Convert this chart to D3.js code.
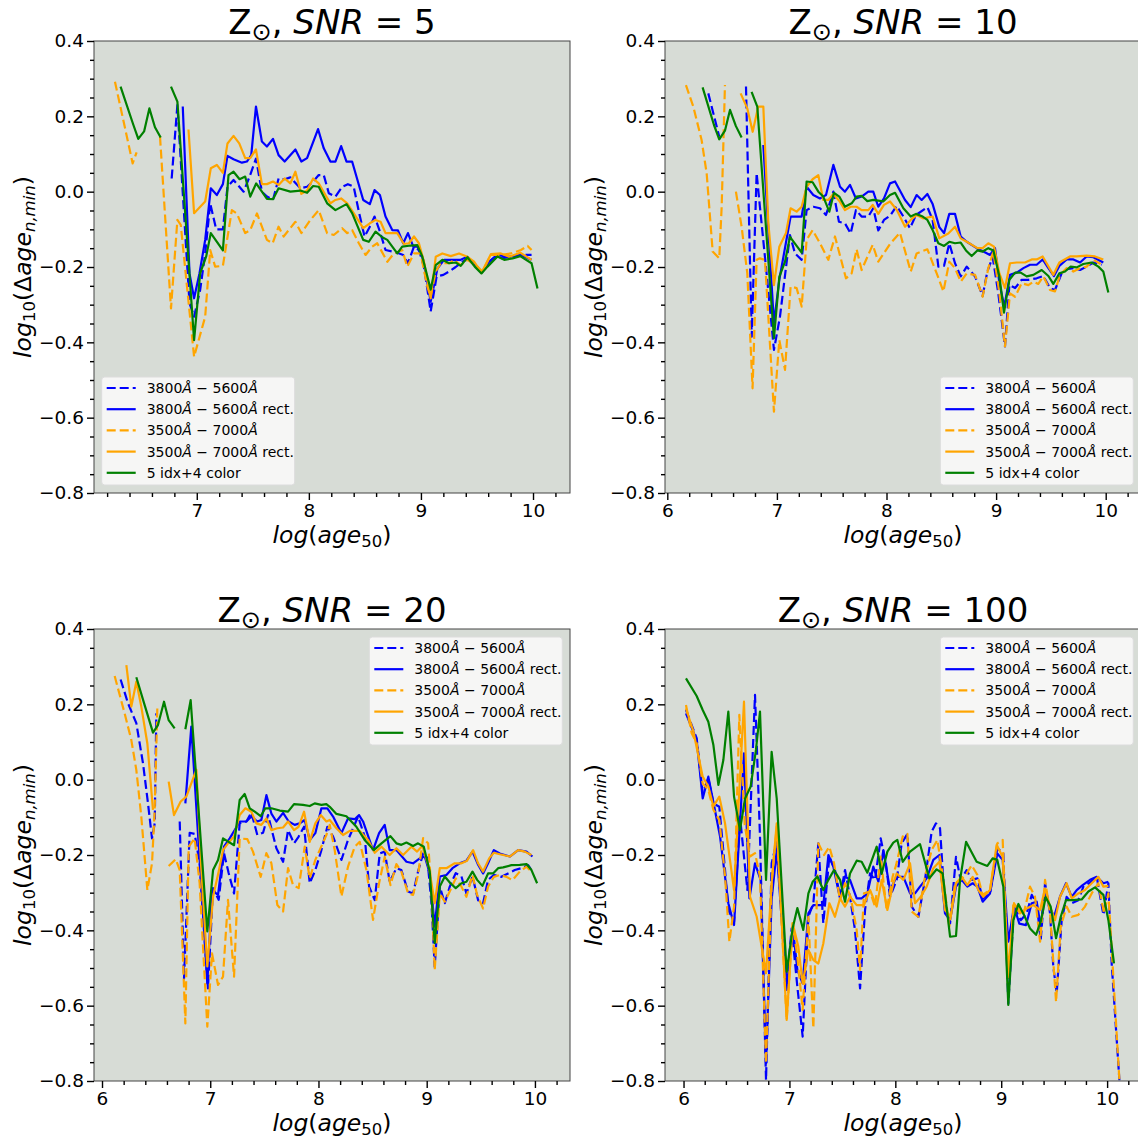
<!DOCTYPE html>
<html>
<head>
<meta charset="utf-8">
<script src="https://cdn.jsdelivr.net/npm/d3@7"></script>
<style>
  body { margin: 0; background: #fff; }
  text { font-family: "DejaVu Sans", sans-serif; }
</style>
</head>
<body>
<div id="chart"></div>
<script>
// ---------- data: [log(age50), log10(Δage)] pairs, null = gap ----------
const seriesNames = ['3800Å – 5600Å', '3800Å – 5600Å rect.', '3500Å – 7000Å', '3500Å – 7000Å rect.', '5 idx+4 color'];
const snrValues = ['5', '10', '20', '100'];
const yTicks = [0.4, 0.2, 0.0, -0.2, -0.4, -0.6, -0.8];
const xTicks = [6, 7, 8, 9, 10];

// SNR = 5
const p1BlueDash = [[6.776,0.035],[6.827,0.23],[6.935,-0.296],[6.976,-0.332],[7.03,-0.261],[7.075,-0.164],[7.12,-0.031],[7.173,-0.1],[7.233,-0.1],[7.274,0.013],[7.328,0.031],[7.418,0.0],[7.471,0.04],[7.528,0.088],[7.581,0.0],[7.626,-0.013],[7.68,-0.022],[7.73,0.035],[7.784,0.033],[7.835,0.038],[7.924,0.009],[7.984,0.013],[8.038,0.027],[8.088,0.044],[8.133,0.044],[8.178,-0.004],[8.237,-0.013],[8.297,0.013],[8.348,0.02],[8.4,0.013],[8.446,-0.053],[8.497,-0.119],[8.544,-0.093],[8.586,-0.066],[8.634,-0.106],[8.684,-0.155],[8.744,-0.159],[8.795,-0.163],[8.842,-0.168],[8.884,-0.19],[8.938,-0.146],[8.982,-0.155],[9.027,-0.199],[9.087,-0.318],[9.14,-0.225],[9.2,-0.221],[9.251,-0.212],[9.31,-0.2],[9.37,-0.186],[9.43,-0.177],[9.504,-0.204],[9.549,-0.212],[9.609,-0.186],[9.668,-0.171],[9.728,-0.177],[9.817,-0.171],[9.907,-0.168],[9.987,-0.168]];
const p1BlueRect = [[6.875,0.226],[6.935,-0.217],[6.976,-0.283],[7.024,-0.217],[7.075,-0.128],[7.125,0.009],[7.179,-0.009],[7.233,0.02],[7.274,0.095],[7.328,0.086],[7.403,0.077],[7.447,0.08],[7.486,0.097],[7.528,0.226],[7.581,0.133],[7.626,0.12],[7.68,0.14],[7.73,0.097],[7.784,0.08],[7.88,0.112],[7.933,0.08],[7.984,0.089],[8.082,0.166],[8.133,0.115],[8.192,0.08],[8.237,0.08],[8.288,0.121],[8.336,0.08],[8.386,0.08],[8.485,-0.022],[8.544,-0.033],[8.586,0.004],[8.634,-0.009],[8.684,-0.066],[8.744,-0.102],[8.795,-0.103],[8.842,-0.137],[8.884,-0.11],[8.932,-0.146],[8.968,-0.146],[9.021,-0.181],[9.087,-0.292],[9.147,-0.204],[9.206,-0.181],[9.296,-0.181],[9.355,-0.181],[9.415,-0.173],[9.48,-0.195],[9.54,-0.215],[9.609,-0.186],[9.683,-0.168],[9.773,-0.173],[9.892,-0.168],[9.987,-0.181]];
const p1OrangeDash = [[6.27,0.292],[6.428,0.075],[6.463,0.104],null,[6.672,0.146],[6.77,-0.31],[6.827,-0.075],[6.857,-0.088],[6.976,-0.438],[7.075,-0.332],[7.12,-0.155],[7.164,-0.199],[7.233,-0.197],[7.313,-0.049],[7.358,-0.058],[7.432,-0.11],[7.477,-0.102],[7.537,-0.058],[7.626,-0.128],[7.677,-0.137],[7.73,-0.093],[7.775,-0.119],[7.88,-0.08],[7.933,-0.11],[8.014,-0.075],[8.088,-0.049],[8.163,-0.11],[8.222,-0.115],[8.297,-0.097],[8.342,-0.11],[8.386,-0.102],[8.446,-0.137],[8.506,-0.168],[8.565,-0.146],[8.61,-0.137],[8.7,-0.186],[8.759,-0.164],[8.833,-0.155],[8.878,-0.199],[8.938,-0.164],[8.997,-0.164],[9.057,-0.252],[9.087,-0.279],[9.132,-0.212],[9.176,-0.19],[9.251,-0.19],[9.296,-0.181],[9.355,-0.195],[9.415,-0.181],[9.504,-0.199],[9.549,-0.212],[9.624,-0.168],[9.713,-0.168],[9.802,-0.164],[9.892,-0.155],[9.952,-0.144],[9.987,-0.155]];
const p1OrangeRect = [[6.926,0.165],[6.976,-0.057],[7.075,-0.026],[7.125,0.062],[7.179,0.071],[7.233,0.05],[7.274,0.128],[7.328,0.148],[7.379,0.128],[7.432,0.089],[7.477,0.089],[7.528,0.112],[7.581,0.02],[7.626,0.02],[7.68,0.027],[7.73,0.018],[7.784,0.035],[7.835,0.022],[7.88,0.053],[7.933,-0.006],[7.984,0.003],[8.038,0.035],[8.088,0.022],[8.148,-0.009],[8.192,-0.031],[8.237,-0.022],[8.288,-0.018],[8.342,-0.031],[8.4,-0.057],[8.485,-0.097],[8.544,-0.084],[8.595,-0.075],[8.64,-0.08],[8.684,-0.11],[8.789,-0.11],[8.848,-0.139],[8.893,-0.137],[8.938,-0.119],[8.982,-0.137],[9.027,-0.186],[9.087,-0.283],[9.132,-0.173],[9.191,-0.164],[9.266,-0.171],[9.34,-0.164],[9.415,-0.173],[9.474,-0.186],[9.54,-0.215],[9.624,-0.166],[9.713,-0.164],[9.788,-0.173],[9.886,-0.162],[9.987,-0.181]];
const p1Green = [[6.32,0.279],[6.43,0.181],[6.478,0.14],[6.53,0.16],[6.577,0.221],[6.627,0.171],[6.678,0.144],null,[6.77,0.279],[6.827,0.239],[6.976,-0.394],[7.03,-0.217],[7.084,-0.172],[7.125,-0.11],[7.233,-0.156],[7.283,0.044],[7.328,0.053],[7.382,0.033],[7.432,0.04],[7.477,-0.013],[7.53,0.022],[7.626,-0.019],[7.68,-0.02],[7.73,0.009],[7.835,0.0],[7.924,0.003],[7.984,-0.003],[8.038,0.015],[8.088,0.013],[8.163,-0.031],[8.237,-0.049],[8.336,-0.033],[8.386,-0.057],[8.485,-0.128],[8.535,-0.133],[8.595,-0.106],[8.655,-0.121],[8.7,-0.128],[8.789,-0.164],[8.833,-0.146],[8.908,-0.143],[8.968,-0.142],[9.012,-0.172],[9.087,-0.26],[9.132,-0.195],[9.191,-0.181],[9.251,-0.19],[9.31,-0.188],[9.355,-0.197],[9.415,-0.174],[9.48,-0.199],[9.54,-0.217],[9.594,-0.199],[9.683,-0.172],[9.743,-0.181],[9.817,-0.177],[9.886,-0.171],[9.987,-0.19],[10.04,-0.257]];

// SNR = 10
const p2BlueDash = [[6.374,0.261],[6.474,0.146],null,[6.718,0.279],[6.77,-0.385],[6.815,0.049],[6.845,-0.04],[6.906,-0.217],[6.973,-0.42],[7.028,-0.332],[7.119,-0.115],[7.165,-0.164],[7.226,-0.181],[7.271,-0.049],[7.332,-0.04],[7.393,-0.044],[7.448,-0.062],[7.515,0.0],[7.566,-0.08],[7.621,-0.084],[7.673,-0.111],[7.721,-0.049],[7.773,-0.066],[7.834,-0.066],[7.879,-0.044],[7.925,-0.103],[7.977,-0.075],[8.032,-0.064],[8.093,-0.038],[8.154,-0.066],[8.214,-0.097],[8.269,-0.062],[8.373,-0.041],[8.421,-0.075],[8.473,-0.199],[8.525,-0.197],[8.573,-0.137],[8.625,-0.19],[8.677,-0.225],[8.732,-0.199],[8.808,-0.225],[8.877,-0.277],[8.92,-0.212],[8.969,-0.174],[9.02,-0.27],[9.081,-0.411],[9.121,-0.248],[9.173,-0.256],[9.233,-0.234],[9.294,-0.234],[9.37,-0.23],[9.431,-0.224],[9.492,-0.256],[9.537,-0.261],[9.598,-0.217],[9.644,-0.206],[9.705,-0.203],[9.766,-0.208],[9.826,-0.199],[9.887,-0.188],[9.963,-0.194]];
const p2BlueRect = [[6.876,0.124],[6.973,-0.349],[7.022,-0.234],[7.125,-0.066],[7.18,-0.066],[7.226,-0.066],[7.271,0.013],[7.332,-0.009],[7.393,-0.018],[7.448,-0.009],[7.515,0.071],[7.576,0.013],[7.621,0.0],[7.667,0.018],[7.721,-0.018],[7.773,-0.013],[7.834,0.0],[7.879,0.0],[7.925,-0.04],[7.977,-0.018],[8.032,0.022],[8.078,0.027],[8.169,-0.022],[8.221,-0.041],[8.275,-0.009],[8.321,-0.022],[8.373,-0.006],[8.421,-0.033],[8.482,-0.094],[8.525,-0.11],[8.573,-0.059],[8.625,-0.059],[8.677,-0.119],[8.732,-0.133],[8.823,-0.15],[8.884,-0.159],[8.944,-0.168],[8.99,-0.15],[9.03,-0.243],[9.075,-0.305],[9.127,-0.221],[9.188,-0.215],[9.249,-0.203],[9.309,-0.194],[9.37,-0.194],[9.425,-0.18],[9.477,-0.203],[9.528,-0.224],[9.577,-0.197],[9.644,-0.18],[9.705,-0.18],[9.766,-0.188],[9.826,-0.172],[9.887,-0.174],[9.978,-0.188]];
const p2OrangeDash = [[6.17,0.283],[6.237,0.226],[6.313,0.137],[6.359,0.049],[6.414,-0.159],[6.474,-0.177],[6.496,-0.04],[6.526,0.283],null,[6.626,0.0],[6.678,-0.093],[6.73,-0.217],[6.778,-0.522],[6.815,-0.181],[6.845,-0.177],[6.891,-0.181],[6.973,-0.584],[7.022,-0.394],[7.074,-0.473],[7.125,-0.252],[7.18,-0.256],[7.226,-0.305],[7.271,-0.128],[7.326,-0.102],[7.393,-0.137],[7.469,-0.181],[7.53,-0.119],[7.63,-0.23],[7.682,-0.217],[7.727,-0.153],[7.773,-0.208],[7.874,-0.141],[7.925,-0.186],[8.032,-0.139],[8.123,-0.109],[8.221,-0.212],[8.275,-0.164],[8.373,-0.153],[8.458,-0.217],[8.519,-0.265],[8.573,-0.186],[8.625,-0.203],[8.677,-0.239],[8.732,-0.217],[8.808,-0.221],[8.877,-0.279],[8.929,-0.203],[8.975,-0.159],[9.03,-0.27],[9.081,-0.411],[9.127,-0.27],[9.173,-0.279],[9.233,-0.243],[9.294,-0.248],[9.34,-0.239],[9.385,-0.245],[9.431,-0.225],[9.492,-0.261],[9.537,-0.265],[9.583,-0.221],[9.644,-0.203],[9.705,-0.212],[9.766,-0.203],[9.826,-0.199],[9.887,-0.181],[9.954,-0.192]];
const p2OrangeRect = [[6.669,0.261],[6.73,0.221],[6.779,0.159],[6.83,0.226],[6.876,0.226],[6.922,-0.084],[6.973,-0.248],[7.022,-0.146],[7.083,-0.11],[7.125,-0.044],[7.18,-0.053],[7.226,-0.04],[7.271,0.013],[7.326,0.033],[7.378,0.044],[7.423,-0.022],[7.469,-0.022],[7.515,-0.006],[7.576,-0.027],[7.621,-0.049],[7.673,-0.04],[7.727,-0.04],[7.773,-0.049],[7.834,-0.049],[7.874,-0.035],[7.925,-0.059],[7.977,-0.035],[8.032,-0.026],[8.093,-0.048],[8.169,-0.093],[8.221,-0.075],[8.275,-0.062],[8.336,-0.071],[8.421,-0.066],[8.482,-0.124],[8.564,-0.111],[8.625,-0.093],[8.677,-0.124],[8.732,-0.133],[8.829,-0.15],[8.877,-0.15],[8.929,-0.137],[8.981,-0.146],[9.03,-0.217],[9.081,-0.256],[9.127,-0.19],[9.188,-0.188],[9.264,-0.188],[9.325,-0.18],[9.37,-0.18],[9.425,-0.172],[9.522,-0.221],[9.577,-0.188],[9.674,-0.172],[9.735,-0.172],[9.826,-0.17],[9.902,-0.172],[9.978,-0.18]];
const p2Green = [[6.322,0.277],[6.426,0.177],[6.474,0.139],[6.526,0.162],[6.572,0.217],[6.626,0.174],[6.678,0.144],null,[6.769,0.265],[6.821,0.226],[6.973,-0.389],[7.022,-0.226],[7.074,-0.186],[7.119,-0.12],[7.226,-0.162],[7.271,0.027],[7.326,0.025],[7.378,0.0],[7.423,-0.013],[7.478,-0.053],[7.521,-0.003],[7.569,-0.013],[7.621,-0.04],[7.682,-0.031],[7.727,-0.013],[7.773,-0.011],[7.825,-0.025],[7.879,-0.022],[7.97,-0.026],[8.032,-0.009],[8.078,-0.003],[8.154,-0.044],[8.221,-0.066],[8.269,-0.059],[8.33,-0.066],[8.373,-0.075],[8.421,-0.102],[8.473,-0.137],[8.525,-0.144],[8.573,-0.133],[8.625,-0.137],[8.677,-0.135],[8.725,-0.156],[8.777,-0.171],[8.829,-0.156],[8.877,-0.159],[8.929,-0.15],[8.975,-0.156],[9.03,-0.225],[9.072,-0.321],[9.121,-0.234],[9.173,-0.215],[9.224,-0.215],[9.279,-0.225],[9.34,-0.221],[9.416,-0.208],[9.477,-0.224],[9.522,-0.245],[9.577,-0.217],[9.629,-0.212],[9.68,-0.199],[9.735,-0.201],[9.796,-0.192],[9.872,-0.188],[9.933,-0.199],[9.978,-0.212],[10.024,-0.268]];

// SNR = 20
const p3BlueDash = [[6.172,0.266],[6.24,0.203],[6.317,0.15],[6.379,0.043],[6.425,-0.063],[6.462,-0.156],[6.487,-0.116],[6.502,0.176],null,[6.718,-0.111],[6.758,-0.528],[6.81,-0.141],[6.856,-0.144],[6.902,-0.222],[6.979,-0.554],[7.026,-0.288],[7.078,-0.319],[7.127,-0.195],[7.17,-0.248],[7.22,-0.302],[7.272,-0.116],[7.334,-0.111],[7.38,-0.087],[7.435,-0.147],[7.488,-0.141],[7.534,-0.094],[7.611,-0.182],[7.673,-0.218],[7.719,-0.134],[7.774,-0.169],[7.817,-0.151],[7.867,-0.125],[7.919,-0.275],[7.971,-0.24],[8.027,-0.187],[8.082,-0.125],[8.135,-0.151],[8.212,-0.213],[8.273,-0.16],[8.366,-0.098],[8.427,-0.151],[8.468,-0.284],[8.52,-0.32],[8.566,-0.196],[8.612,-0.191],[8.658,-0.271],[8.72,-0.235],[8.766,-0.24],[8.828,-0.297],[8.874,-0.302],[8.92,-0.244],[8.967,-0.196],[9.004,-0.204],[9.044,-0.328],[9.074,-0.497],[9.121,-0.284],[9.167,-0.328],[9.213,-0.284],[9.268,-0.248],[9.321,-0.257],[9.367,-0.302],[9.423,-0.257],[9.475,-0.32],[9.521,-0.328],[9.567,-0.266],[9.62,-0.253],[9.69,-0.258],[9.752,-0.249],[9.814,-0.24],[9.875,-0.235],[9.937,-0.227],[9.968,-0.24]];
const p3BlueRect = [[6.77,-0.063],[6.825,0.141],[6.973,-0.541],[7.016,-0.293],[7.072,-0.306],[7.127,-0.178],[7.18,-0.156],[7.226,-0.134],[7.272,-0.111],[7.334,-0.111],[7.38,-0.098],[7.435,-0.111],[7.472,-0.107],[7.519,-0.041],[7.565,-0.09],[7.611,-0.111],[7.673,-0.088],[7.725,-0.111],[7.78,-0.12],[7.827,-0.116],[7.873,-0.107],[7.919,-0.16],[7.971,-0.142],[8.027,-0.076],[8.082,-0.076],[8.135,-0.098],[8.212,-0.142],[8.273,-0.103],[8.335,-0.105],[8.375,-0.094],[8.412,-0.111],[8.504,-0.187],[8.56,-0.142],[8.612,-0.12],[8.658,-0.187],[8.72,-0.187],[8.813,-0.218],[8.874,-0.222],[8.936,-0.209],[8.982,-0.204],[9.028,-0.249],[9.074,-0.39],[9.121,-0.257],[9.182,-0.253],[9.238,-0.235],[9.305,-0.222],[9.367,-0.215],[9.423,-0.191],[9.475,-0.226],[9.521,-0.249],[9.567,-0.222],[9.62,-0.187],[9.675,-0.196],[9.768,-0.204],[9.845,-0.187],[9.922,-0.191],[9.977,-0.204]];
const p3OrangeDash = [[6.117,0.275],[6.209,0.176],[6.271,0.105],[6.317,0.026],[6.363,-0.098],[6.419,-0.293],[6.462,-0.222],[6.486,-0.085],[6.511,0.189],null,[6.616,-0.229],[6.681,-0.211],[6.718,-0.24],[6.77,-0.647],[6.801,-0.178],[6.856,-0.156],[6.902,-0.275],[6.973,-0.656],[7.016,-0.461],[7.072,-0.545],[7.118,-0.523],[7.164,-0.319],[7.22,-0.523],[7.272,-0.156],[7.343,-0.158],[7.395,-0.191],[7.466,-0.258],[7.519,-0.195],[7.565,-0.222],[7.62,-0.333],[7.673,-0.35],[7.719,-0.235],[7.765,-0.28],[7.817,-0.288],[7.873,-0.178],[7.919,-0.262],[7.971,-0.213],[8.073,-0.147],[8.104,-0.12],[8.15,-0.187],[8.212,-0.31],[8.273,-0.231],[8.335,-0.178],[8.381,-0.165],[8.443,-0.24],[8.504,-0.372],[8.56,-0.275],[8.612,-0.205],[8.665,-0.28],[8.72,-0.224],[8.766,-0.244],[8.828,-0.302],[8.874,-0.306],[8.92,-0.253],[8.967,-0.155],[9.013,-0.169],[9.044,-0.293],[9.074,-0.505],[9.121,-0.302],[9.167,-0.324],[9.219,-0.293],[9.268,-0.262],[9.321,-0.284],[9.367,-0.311],[9.423,-0.253],[9.466,-0.306],[9.521,-0.342],[9.567,-0.284],[9.62,-0.258],[9.675,-0.253],[9.737,-0.258],[9.792,-0.267],[9.86,-0.244],[9.922,-0.231],[9.968,-0.244]];
const p3OrangeRect = [[6.225,0.304],[6.271,0.194],[6.317,0.26],[6.363,0.194],[6.419,0.096],[6.471,-0.08],null,[6.616,-0.005],[6.665,-0.094],[6.727,-0.058],[6.779,-0.045],[6.825,-0.01],[6.872,0.026],[6.918,-0.24],[6.973,-0.496],[7.026,-0.311],[7.078,-0.244],[7.118,-0.187],[7.164,-0.169],[7.22,-0.151],[7.272,-0.094],[7.325,-0.076],[7.38,-0.085],[7.426,-0.116],[7.472,-0.12],[7.519,-0.103],[7.565,-0.134],[7.62,-0.129],[7.673,-0.127],[7.719,-0.111],[7.774,-0.134],[7.817,-0.125],[7.867,-0.085],[7.919,-0.165],[7.971,-0.116],[8.021,-0.094],[8.073,-0.111],[8.104,-0.107],[8.166,-0.129],[8.227,-0.147],[8.289,-0.136],[8.381,-0.136],[8.458,-0.16],[8.52,-0.194],[8.582,-0.178],[8.658,-0.2],[8.72,-0.182],[8.782,-0.2],[8.859,-0.178],[8.911,-0.191],[8.96,-0.176],[9.022,-0.235],[9.074,-0.328],[9.121,-0.235],[9.182,-0.235],[9.259,-0.222],[9.321,-0.222],[9.373,-0.215],[9.429,-0.187],[9.475,-0.222],[9.521,-0.244],[9.577,-0.209],[9.62,-0.194],[9.675,-0.198],[9.768,-0.204],[9.845,-0.187],[9.906,-0.191],[9.968,-0.2]];
const p3Green = [[6.317,0.272],[6.394,0.198],[6.471,0.125],[6.517,0.145],[6.573,0.207],[6.616,0.158],[6.671,0.136],null,[6.77,0.134],[6.819,0.211],[6.973,-0.403],[7.026,-0.24],[7.072,-0.213],[7.118,-0.156],[7.22,-0.174],[7.272,-0.054],[7.318,-0.038],[7.365,-0.076],[7.411,-0.085],[7.466,-0.097],[7.509,-0.076],[7.565,-0.076],[7.642,-0.082],[7.719,-0.085],[7.774,-0.065],[7.857,-0.067],[7.919,-0.07],[7.965,-0.063],[8.027,-0.067],[8.073,-0.065],[8.104,-0.072],[8.166,-0.091],[8.258,-0.097],[8.35,-0.125],[8.427,-0.16],[8.511,-0.187],[8.582,-0.169],[8.665,-0.15],[8.72,-0.169],[8.766,-0.173],[8.813,-0.167],[8.874,-0.176],[8.92,-0.169],[8.973,-0.178],[9.028,-0.244],[9.074,-0.434],[9.121,-0.284],[9.167,-0.257],[9.219,-0.275],[9.268,-0.288],[9.321,-0.275],[9.367,-0.271],[9.423,-0.244],[9.466,-0.266],[9.515,-0.282],[9.567,-0.249],[9.613,-0.249],[9.66,-0.235],[9.706,-0.233],[9.783,-0.227],[9.86,-0.226],[9.922,-0.224],[9.968,-0.24],[10.02,-0.275]];

// SNR = 100
const p4BlueDash = [[6.023,0.185],[6.077,0.145],[6.124,0.11],[6.181,-0.036],[6.234,0.004],[6.282,-0.063],[6.338,-0.072],[6.392,-0.24],[6.423,-0.346],[6.477,-0.377],[6.533,-0.098],[6.603,-0.293],[6.675,0.225],[6.722,-0.151],[6.779,-0.797],[6.832,-0.222],[6.88,-0.165],[6.974,-0.541],[7.021,-0.395],[7.075,-0.55],[7.125,-0.682],[7.179,-0.364],[7.226,-0.328],[7.273,-0.169],[7.32,-0.381],[7.377,-0.204],[7.43,-0.24],[7.478,-0.311],[7.525,-0.24],[7.572,-0.311],[7.619,-0.399],[7.667,-0.554],[7.714,-0.346],[7.761,-0.249],[7.808,-0.266],[7.862,-0.156],[7.912,-0.226],[7.95,-0.311],[8.013,-0.266],[8.06,-0.169],[8.114,-0.144],[8.155,-0.337],[8.218,-0.364],[8.28,-0.266],[8.343,-0.138],[8.384,-0.116],[8.422,-0.129],[8.469,-0.337],[8.517,-0.382],[8.573,-0.205],[8.617,-0.266],[8.674,-0.24],[8.721,-0.266],[8.775,-0.262],[8.825,-0.315],[8.894,-0.302],[8.963,-0.182],[9.02,-0.196],[9.067,-0.594],[9.121,-0.337],[9.184,-0.373],[9.241,-0.355],[9.288,-0.306],[9.335,-0.328],[9.373,-0.426],[9.414,-0.275],[9.461,-0.355],[9.492,-0.497],[9.524,-0.567],[9.571,-0.373],[9.618,-0.311],[9.666,-0.328],[9.728,-0.32],[9.776,-0.284],[9.839,-0.273],[9.902,-0.258],[9.965,-0.359],[10.012,-0.275],[10.043,-0.488],[10.116,-0.798]];
const p4BlueRect = [[6.023,0.176],[6.124,0.105],[6.181,-0.05],[6.234,0.008],[6.282,-0.06],[6.345,-0.151],[6.423,-0.328],[6.477,-0.386],[6.533,-0.116],[6.571,0.07],[6.622,-0.315],[6.675,-0.222],[6.728,-0.266],[6.779,-0.753],[6.832,-0.319],[6.88,-0.187],[6.974,-0.558],[7.031,-0.39],[7.075,-0.505],[7.125,-0.541],[7.179,-0.355],[7.226,-0.333],[7.32,-0.333],[7.368,-0.2],[7.415,-0.231],[7.478,-0.315],[7.525,-0.257],[7.572,-0.266],[7.635,-0.315],[7.682,-0.315],[7.736,-0.302],[7.792,-0.231],[7.84,-0.271],[7.887,-0.187],[7.95,-0.293],[8.013,-0.258],[8.076,-0.258],[8.139,-0.302],[8.186,-0.302],[8.233,-0.284],[8.296,-0.262],[8.359,-0.213],[8.416,-0.2],[8.469,-0.355],[8.517,-0.373],[8.573,-0.284],[8.627,-0.266],[8.68,-0.284],[8.731,-0.275],[8.775,-0.284],[8.825,-0.324],[8.894,-0.302],[8.963,-0.196],[9.014,-0.213],[9.067,-0.43],[9.121,-0.337],[9.171,-0.382],[9.234,-0.386],[9.288,-0.328],[9.335,-0.324],[9.373,-0.39],[9.414,-0.293],[9.455,-0.337],[9.499,-0.364],[9.555,-0.311],[9.612,-0.275],[9.666,-0.311],[9.713,-0.293],[9.769,-0.28],[9.839,-0.266],[9.902,-0.258],[9.965,-0.275],[10.012,-0.271]];
const p4OrangeDash = [[6.023,0.198],[6.077,0.123],[6.124,0.097],[6.181,-0.01],[6.234,-0.027],[6.282,-0.08],[6.338,-0.107],[6.392,-0.257],[6.433,-0.43],[6.477,-0.337],[6.527,0.172],[6.578,-0.12],[6.628,-0.204],[6.675,-0.195],[6.722,-0.257],[6.779,-0.753],[6.832,-0.275],[6.88,-0.125],[6.974,-0.638],[7.031,-0.381],[7.075,-0.47],[7.125,-0.611],[7.179,-0.364],[7.226,-0.66],[7.273,-0.169],[7.327,-0.2],[7.377,-0.178],[7.421,-0.222],[7.478,-0.32],[7.525,-0.275],[7.578,-0.311],[7.635,-0.399],[7.667,-0.505],[7.704,-0.302],[7.761,-0.297],[7.808,-0.337],[7.862,-0.204],[7.918,-0.346],[7.975,-0.257],[8.007,-0.227],[8.07,-0.151],[8.114,-0.144],[8.155,-0.35],[8.218,-0.364],[8.28,-0.258],[8.343,-0.187],[8.397,-0.16],[8.454,-0.266],[8.51,-0.39],[8.564,-0.275],[8.617,-0.266],[8.674,-0.249],[8.721,-0.227],[8.775,-0.253],[8.825,-0.306],[8.894,-0.293],[8.963,-0.169],[9.014,-0.16],[9.067,-0.567],[9.115,-0.328],[9.162,-0.342],[9.209,-0.359],[9.272,-0.284],[9.319,-0.311],[9.367,-0.43],[9.414,-0.266],[9.461,-0.355],[9.518,-0.59],[9.562,-0.39],[9.618,-0.337],[9.666,-0.364],[9.728,-0.359],[9.791,-0.337],[9.854,-0.302],[9.917,-0.275],[9.971,-0.355],[10.012,-0.302],[10.053,-0.497],[10.116,-0.798]];
const p4OrangeRect = [[6.023,0.189],[6.093,0.128],[6.181,0.008],[6.234,-0.018],[6.282,-0.071],[6.338,-0.045],[6.392,-0.116],[6.477,-0.293],[6.527,-0.027],[6.571,0.207],[6.628,-0.311],[6.691,-0.364],[6.779,-0.514],[6.832,-0.275],[6.88,-0.116],[6.974,-0.638],[7.031,-0.381],[7.084,-0.443],[7.125,-0.541],[7.179,-0.452],[7.226,-0.479],[7.273,-0.488],[7.32,-0.435],[7.377,-0.328],[7.43,-0.364],[7.478,-0.315],[7.525,-0.337],[7.572,-0.311],[7.635,-0.333],[7.704,-0.333],[7.761,-0.293],[7.824,-0.337],[7.871,-0.266],[7.925,-0.346],[7.981,-0.275],[8.013,-0.249],[8.076,-0.266],[8.139,-0.222],[8.186,-0.328],[8.24,-0.311],[8.296,-0.284],[8.359,-0.235],[8.416,-0.218],[8.469,-0.346],[8.523,-0.364],[8.573,-0.275],[8.627,-0.258],[8.68,-0.28],[8.731,-0.258],[8.784,-0.293],[8.831,-0.311],[8.894,-0.293],[8.957,-0.173],[9.014,-0.205],[9.067,-0.514],[9.121,-0.328],[9.178,-0.355],[9.241,-0.342],[9.304,-0.333],[9.367,-0.346],[9.414,-0.289],[9.461,-0.337],[9.508,-0.373],[9.555,-0.311],[9.618,-0.275],[9.666,-0.315],[9.728,-0.302],[9.791,-0.293],[9.854,-0.275],[9.917,-0.258],[9.965,-0.284],[10.012,-0.282]];
const p4Green = [[6.023,0.269],[6.124,0.222],[6.181,0.185],[6.234,0.154],[6.282,0.092],[6.329,-0.014],[6.376,0.052],[6.423,0.181],[6.477,-0.045],[6.533,-0.134],[6.581,-0.05],[6.634,-0.018],[6.684,0.079],[6.722,0.181],[6.779,-0.266],[6.832,0.074],[6.88,-0.05],[6.974,-0.51],[7.031,-0.394],[7.075,-0.341],[7.131,-0.399],[7.179,-0.302],[7.22,-0.271],[7.264,-0.257],[7.32,-0.293],[7.368,-0.266],[7.421,-0.24],[7.478,-0.266],[7.525,-0.324],[7.572,-0.249],[7.635,-0.215],[7.682,-0.218],[7.736,-0.247],[7.824,-0.178],[7.871,-0.25],[7.925,-0.191],[7.981,-0.167],[8.019,-0.16],[8.07,-0.218],[8.139,-0.191],[8.233,-0.171],[8.321,-0.262],[8.39,-0.238],[8.447,-0.249],[8.517,-0.417],[8.573,-0.415],[8.611,-0.267],[8.668,-0.165],[8.768,-0.218],[8.869,-0.229],[8.919,-0.209],[8.963,-0.213],[9.02,-0.284],[9.067,-0.598],[9.115,-0.373],[9.162,-0.33],[9.215,-0.359],[9.272,-0.395],[9.329,-0.412],[9.373,-0.377],[9.42,-0.312],[9.467,-0.337],[9.518,-0.421],[9.562,-0.364],[9.612,-0.32],[9.675,-0.32],[9.76,-0.318],[9.823,-0.297],[9.886,-0.286],[9.965,-0.306],[10.012,-0.373],[10.065,-0.488]];

// ---------- layout ----------
const W = 1138, H = 1143;
const colX = [94, 665];
const rowY = [41, 629];
const plotW = 476, plotH = 452;

const seriesStyle = [
  { color: 'blue',   dash: '9,4' },
  { color: 'blue',   dash: null },
  { color: 'orange', dash: '9,4' },
  { color: 'orange', dash: null },
  { color: 'green',  dash: null }
];

const panels = [
  { snr: snrValues[0], col: 0, row: 0, xDomain: [6.083, 10.33], legend: 'lowerleft',
    series: [p1BlueDash, p1BlueRect, p1OrangeDash, p1OrangeRect, p1Green] },
  { snr: snrValues[1], col: 1, row: 0, xDomain: [5.979, 10.322], legend: 'lowerright',
    series: [p2BlueDash, p2BlueRect, p2OrangeDash, p2OrangeRect, p2Green] },
  { snr: snrValues[2], col: 0, row: 1, xDomain: [5.926, 10.324], legend: 'upperright',
    series: [p3BlueDash, p3BlueRect, p3OrangeDash, p3OrangeRect, p3Green] },
  { snr: snrValues[3], col: 1, row: 1, xDomain: [5.825, 10.32], legend: 'upperright',
    series: [p4BlueDash, p4BlueRect, p4OrangeDash, p4OrangeRect, p4Green] }
];

const svg = d3.select('#chart').append('svg')
  .attr('width', W)
  .attr('height', H)
  .style('display', 'block');

svg.append('rect').attr('width', W).attr('height', H).attr('fill', '#fff');

panels.forEach((p, i) => {
  const x0 = colX[p.col], y0 = rowY[p.row];
  const g = svg.append('g').attr('transform', `translate(${x0},${y0})`);

  const x = d3.scaleLinear().domain(p.xDomain).range([0, plotW]);
  const y = d3.scaleLinear().domain([-0.8, 0.4]).range([plotH, 0]);

  // fond gris
  g.append('rect')
    .attr('width', plotW).attr('height', plotH)
    .attr('fill', '#d7dcd6');

  svg.append('clipPath').attr('id', 'clip' + i)
    .append('rect').attr('width', plotW).attr('height', plotH);

  // lignes
  const line = d3.line()
    .defined(d => d !== null)
    .x(d => x(d[0]))
    .y(d => y(d[1]));

  const lines = g.append('g').attr('clip-path', `url(#clip${i})`);
  p.series.forEach((s, k) => {
    lines.append('path')
      .datum(s)
      .attr('d', line)
      .attr('fill', 'none')
      .attr('stroke', seriesStyle[k].color)
      .attr('stroke-width', 2.2)
      .attr('stroke-linejoin', 'round')
      .attr('stroke-dasharray', seriesStyle[k].dash);
  });

  // cadre
  g.append('rect')
    .attr('width', plotW).attr('height', plotH)
    .attr('fill', 'none')
    .attr('stroke', '#444')
    .attr('stroke-width', 1);

  // axes
  const xMajor = xTicks.filter(t => t >= p.xDomain[0] && t <= p.xDomain[1]);
  const xMinor = d3.range(Math.ceil(p.xDomain[0] * 5), Math.floor(p.xDomain[1] * 5) + 1)
    .map(v => v / 5)
    .filter(v => Math.abs(v - Math.round(v)) > 1e-6);
  const yMinor = d3.range(-16, 9).map(v => v / 20)
    .filter(v => !yTicks.some(t => Math.abs(t - v) < 1e-6));

  const styleAxis = sel => {
    sel.select('.domain').remove();
    sel.selectAll('line').attr('stroke', '#000').attr('stroke-width', 1.4);
    sel.selectAll('text').attr('font-size', 18.5).attr('fill', '#000')
      .attr('font-family', '"DejaVu Sans", sans-serif');
  };

  g.append('g').attr('transform', `translate(0,${plotH})`)
    .call(d3.axisBottom(x).tickValues(xMinor).tickSize(4).tickFormat(''))
    .call(styleAxis);
  g.append('g').attr('transform', `translate(0,${plotH})`)
    .call(d3.axisBottom(x).tickValues(xMajor).tickSize(7).tickPadding(4).tickFormat(d3.format('d')))
    .call(styleAxis);
  g.append('g')
    .call(d3.axisLeft(y).tickValues(yMinor).tickSize(4).tickFormat(''))
    .call(styleAxis);
  g.append('g')
    .call(d3.axisLeft(y).tickValues(yTicks).tickSize(7).tickPadding(3).tickFormat(d3.format('.1f')))
    .call(styleAxis);

  // titre
  const title = g.append('text')
    .attr('x', plotW / 2).attr('y', -7)
    .attr('text-anchor', 'middle')
    .attr('font-size', 34);
  title.append('tspan').text('Z');
  title.append('tspan').attr('font-size', 24).attr('dy', 6).text('⊙');
  title.append('tspan').attr('dy', -6).text(', ');
  title.append('tspan').attr('font-style', 'italic').text('SNR');
  title.append('tspan').text(' = ' + p.snr);

  // label x
  const xl = g.append('text')
    .attr('x', plotW / 2).attr('y', plotH + 50)
    .attr('text-anchor', 'middle')
    .attr('font-size', 23.5);
  xl.append('tspan').attr('font-style', 'italic').text('log');
  xl.append('tspan').text('(');
  xl.append('tspan').attr('font-style', 'italic').text('age');
  xl.append('tspan').attr('font-size', 16.5).attr('dy', 4).text('50');
  xl.append('tspan').attr('dy', -4).text(')');

  // label y
  const yl = g.append('text')
    .attr('transform', `translate(-63,${plotH / 2}) rotate(-90)`)
    .attr('text-anchor', 'middle')
    .attr('font-size', 23.5);
  yl.append('tspan').attr('font-style', 'italic').text('log');
  yl.append('tspan').attr('font-size', 16.5).attr('dy', 4).text('10');
  yl.append('tspan').attr('dy', -4).text('(Δ');
  yl.append('tspan').attr('font-style', 'italic').text('age');
  yl.append('tspan').attr('font-size', 16.5).attr('font-style', 'italic').attr('dy', 4).text('n,min');
  yl.append('tspan').attr('dy', -4).text(')');

  // légende
  const lw = 193, lh = 108;
  let lx, ly;
  if (p.legend === 'lowerleft') { lx = 7.7; ly = plotH - 8 - lh; }
  else if (p.legend === 'lowerright') { lx = plotW - 7.7 - lw; ly = plotH - 8 - lh; }
  else { lx = plotW - 7.7 - lw; ly = 8; }

  const leg = g.append('g').attr('transform', `translate(${lx},${ly})`);
  leg.append('rect')
    .attr('width', lw).attr('height', lh)
    .attr('rx', 3)
    .attr('fill', '#f6f6f5')
    .attr('stroke', '#dcdcdc')
    .attr('stroke-width', 1);

  seriesNames.forEach((name, k) => {
    const cy = 11 + k * 21.2;
    leg.append('line')
      .attr('x1', 5).attr('x2', 34)
      .attr('y1', cy).attr('y2', cy)
      .attr('stroke', seriesStyle[k].color)
      .attr('stroke-width', 2.2)
      .attr('stroke-dasharray', seriesStyle[k].dash);
    const t = leg.append('text')
      .attr('x', 45).attr('y', cy + 5)
      .attr('font-size', 14);
    if (k < 4) {
      const a = k < 2 ? ['3800', '5600'] : ['3500', '7000'];
      t.append('tspan').text(a[0]);
      t.append('tspan').attr('font-style', 'italic').text('Å');
      t.append('tspan').text(' − ' + a[1]);
      t.append('tspan').attr('font-style', 'italic').text('Å');
      if (k % 2 === 1) t.append('tspan').text(' rect.');
    } else {
      t.text(name);
    }
  });
});
</script>
</body>
</html>
